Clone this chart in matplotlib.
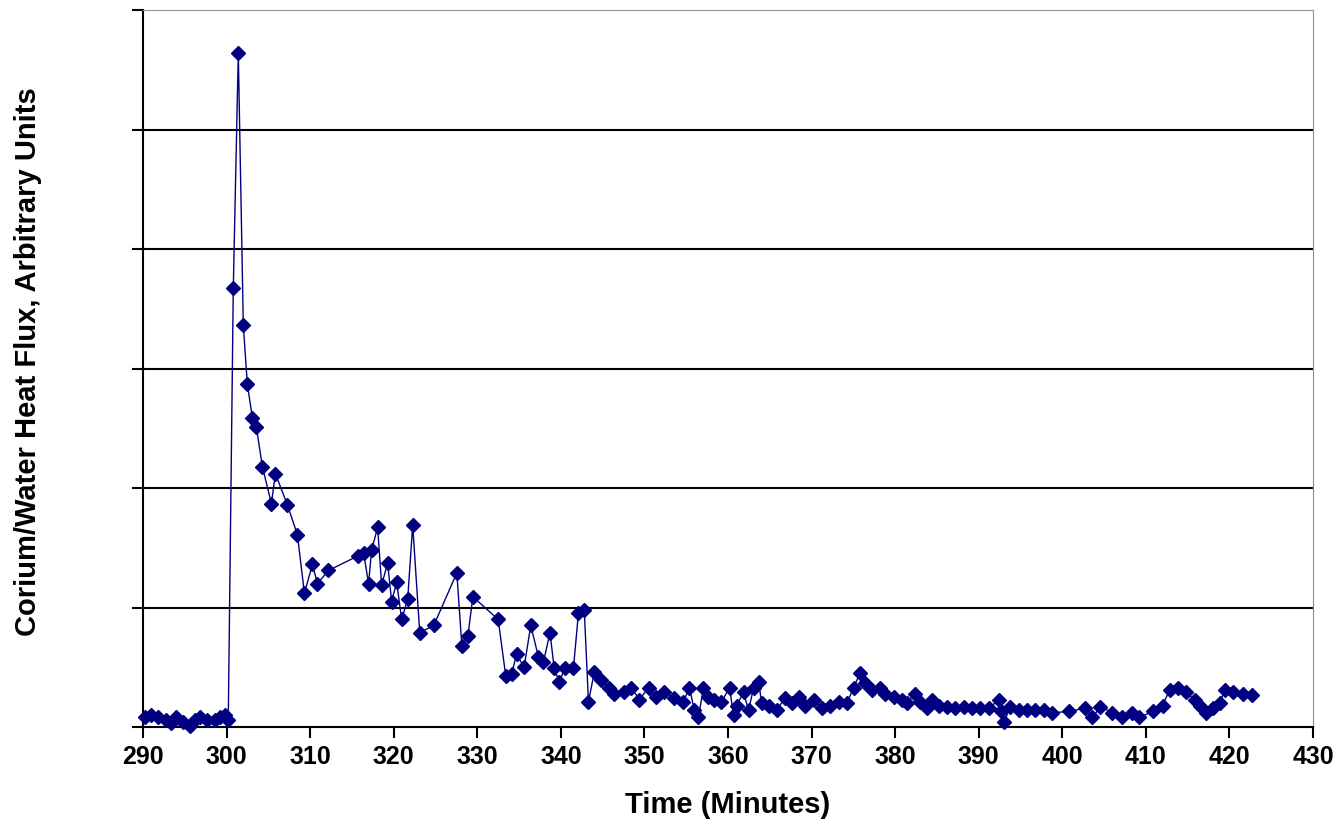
import matplotlib.pyplot as plt

plt.rcParams['font.family'] = ['Liberation Sans', 'DejaVu Sans']

# time (minutes) and heat flux (arbitrary units)
time_min = [
    290.2, 290.9, 291.8, 292.8, 293.4, 294.0, 294.8, 295.6, 296.2, 296.8,
    297.6, 298.6, 299.2, 299.8, 300.2,
    300.8, 301.4, 302.0, 302.48, 303.08, 303.56, 304.28, 305.36, 305.84, 307.27,
    308.47, 309.31, 310.27, 310.87, 312.19, 315.67, 316.39, 316.99, 317.35, 318.07,
    318.55, 319.27, 319.75, 320.35, 320.95, 321.67, 322.27, 323.11, 324.79, 327.55,
    328.15, 328.87, 329.47, 332.5, 333.4, 334.1, 334.7, 335.6, 336.4, 337.3,
    337.9, 338.7, 339.2, 339.8, 340.5, 341.5, 342.1, 342.8, 343.3, 344.0,
    344.8, 345.7, 346.4, 347.5, 348.4, 349.4, 350.5, 351.4, 352.38, 353.58,
    354.66, 355.38, 355.98, 356.46, 357.06, 357.66, 358.38, 359.22, 360.18, 360.66,
    361.02, 361.86, 362.46, 363.06, 363.66, 364.02, 364.86, 365.82, 366.78, 367.62,
    368.46, 369.18, 370.26, 371.21, 372.17, 373.25, 374.21, 375.05, 375.77, 376.37,
    377.21, 378.17, 378.77, 379.85, 380.81, 381.41, 382.37, 382.97, 383.81, 384.41,
    385.25, 386.21, 387.17, 388.25, 389.21, 390.17, 391.25, 392.45, 392.69, 393.05,
    393.77, 394.85, 395.81, 396.77, 397.85, 398.81, 400.85, 402.77, 403.61, 404.57,
    406.0, 407.2, 408.4, 409.24, 410.8, 412.0, 412.84, 413.8, 414.76, 415.84,
    416.44, 417.16, 418.0, 418.84, 419.44, 420.4, 421.6, 422.68,
]
heat_flux = [
    0.08, 0.10, 0.08, 0.06, 0.03, 0.08, 0.04, 0.01, 0.06, 0.08,
    0.06, 0.06, 0.08, 0.10, 0.06,
    3.67, 5.64, 3.36, 2.87, 2.59, 2.51, 2.18, 1.87, 2.12, 1.86,
    1.61, 1.12, 1.36, 1.20, 1.31, 1.43, 1.46, 1.20, 1.48, 1.67,
    1.19, 1.37, 1.05, 1.21, 0.90, 1.07, 1.69, 0.79, 0.85, 1.29,
    0.68, 0.76, 1.09, 0.90, 0.43, 0.44, 0.61, 0.50, 0.85, 0.59,
    0.54, 0.79, 0.49, 0.38, 0.49, 0.49, 0.95, 0.98, 0.21, 0.46,
    0.39, 0.33, 0.28, 0.29, 0.33, 0.23, 0.33, 0.25, 0.29, 0.24,
    0.21, 0.33, 0.14, 0.08, 0.33, 0.25, 0.23, 0.21, 0.33, 0.10,
    0.18, 0.29, 0.14, 0.33, 0.38, 0.20, 0.18, 0.14, 0.24, 0.20,
    0.25, 0.18, 0.23, 0.16, 0.18, 0.21, 0.20, 0.33, 0.45, 0.37,
    0.31, 0.33, 0.28, 0.25, 0.23, 0.20, 0.28, 0.21, 0.16, 0.23,
    0.18, 0.17, 0.16, 0.17, 0.16, 0.16, 0.16, 0.23, 0.13, 0.04,
    0.17, 0.14, 0.14, 0.14, 0.14, 0.12, 0.13, 0.16, 0.08, 0.17,
    0.12, 0.08, 0.12, 0.08, 0.13, 0.18, 0.31, 0.33, 0.29, 0.23,
    0.18, 0.12, 0.16, 0.20, 0.31, 0.29, 0.28, 0.27,
]
x_ticks = list(range(290, 431, 10))
y_grid = [1, 2, 3, 4, 5, 6]

navy = '#000080'

fig = plt.figure(figsize=(13.38, 8.27), dpi=100)
ax = fig.add_axes([0.1069, 0.1209, 0.8744, 0.8670])

ax.plot(time_min, heat_flux, color=navy, linewidth=1.0,
        marker='D', markersize=7.5, markerfacecolor=navy,
        markeredgecolor=navy, clip_on=False, zorder=3)

ax.set_xlim(290, 430)
ax.set_ylim(0, 6)
ax.set_xticks(x_ticks)
ax.set_yticks([0] + y_grid)
ax.set_yticklabels([])

# horizontal gridlines (black), top one drawn as the grey frame
for v in y_grid[:-1]:
    ax.axhline(v, color='black', linewidth=1.5, zorder=1)

ax.spines['top'].set_color('#909090')
ax.spines['right'].set_color('#909090')
ax.spines['left'].set_linewidth(1.5)
ax.spines['bottom'].set_linewidth(1.5)

ax.tick_params(axis='both', direction='out', length=8, width=1.5)
ax.tick_params(axis='x', pad=5)
for lab in ax.get_xticklabels():
    lab.set_fontweight('bold')
    lab.set_fontsize(18)

ax.set_xlabel('Time (Minutes)', fontsize=21, fontweight='bold', labelpad=16)
ax.set_ylabel('Corium/Water Heat Flux, Arbitrary Units', fontsize=21,
              fontweight='bold')
ax.yaxis.set_label_coords(-0.086, 0.51)

fig.savefig('out.png', dpi=100)
